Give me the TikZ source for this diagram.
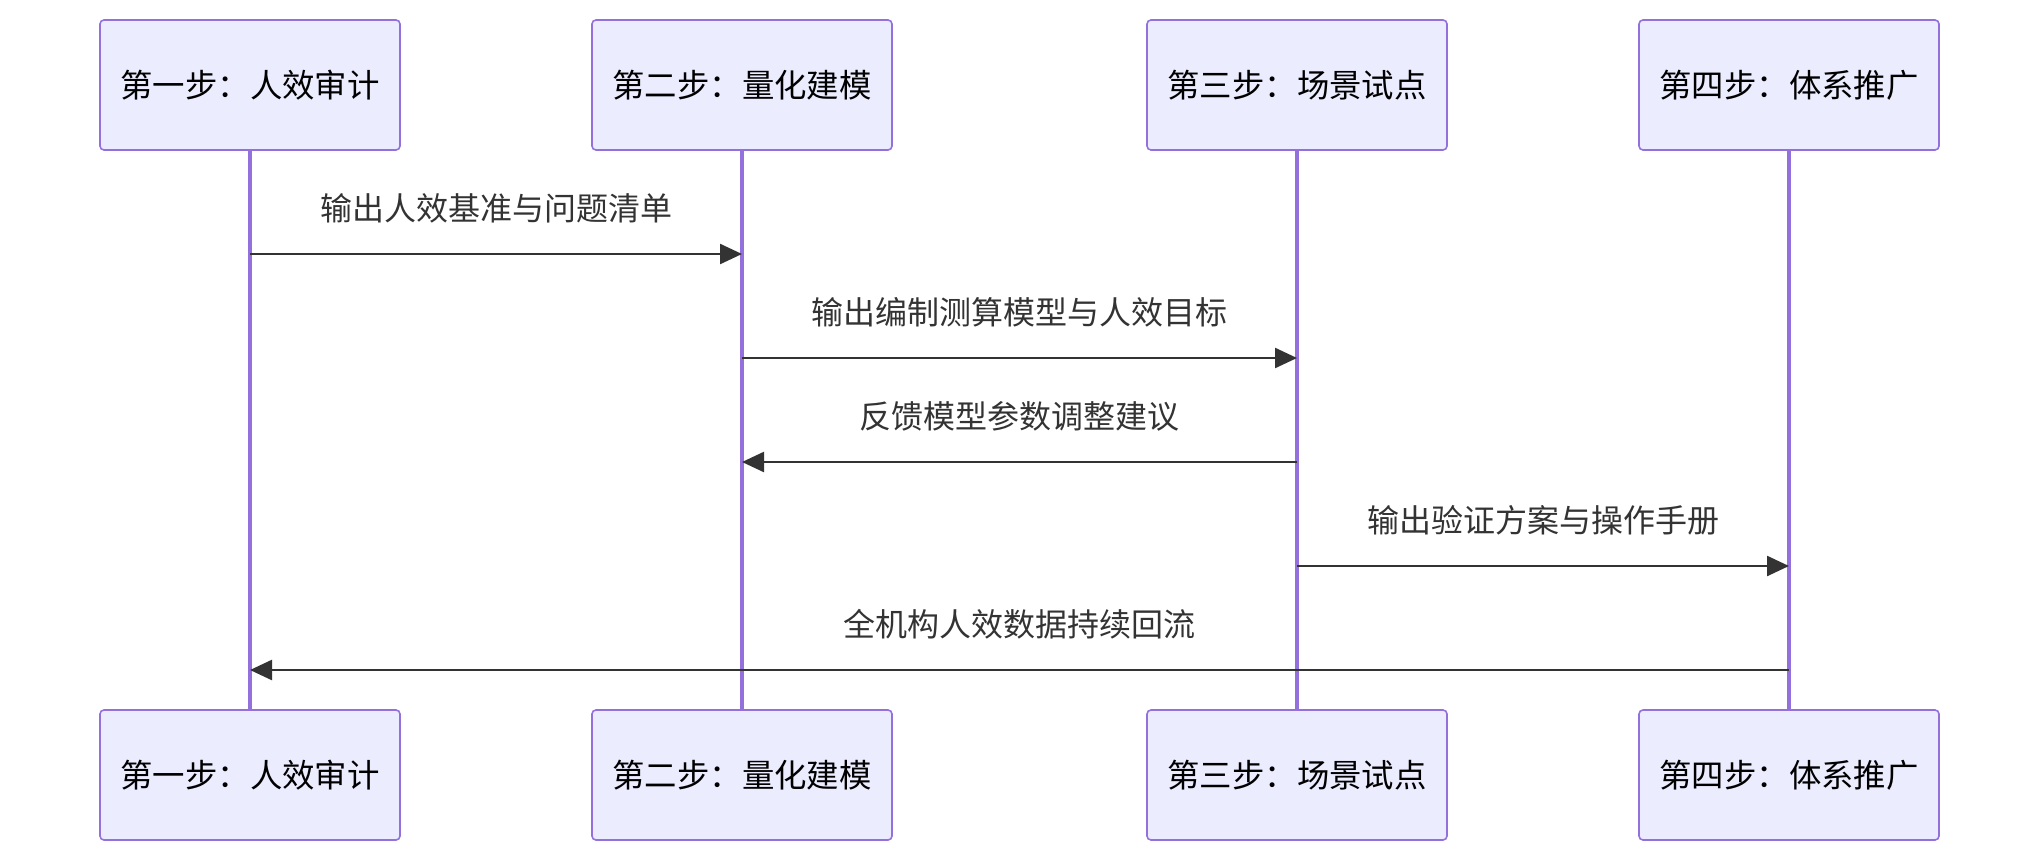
\documentclass[tikz,border=0pt]{standalone}
\usepackage{fontspec}
\setmainfont{Noto Sans CJK SC}
\usetikzlibrary{
  arrows.meta,
  positioning
}
\definecolor{seqpurple}{HTML}{9370DB}
\definecolor{seqfill}{HTML}{ECECFF}
\definecolor{seqtext}{HTML}{333333}
\tikzset{
  seqActor/.style={
    rectangle,
    rounded corners=2pt,
    draw=seqpurple,
    fill=seqfill,
    line width=0.8pt,
    minimum width=150pt,
    minimum height=65pt,
    text=black,
    font=\fontsize{16.2}{19}\selectfont
  },
  seqLife/.style={
    draw=seqpurple,
    line width=1.8pt
  },
  seqMsg/.style={
    -{Triangle[length=11pt,width=10pt]},
    draw=seqtext,
    line width=1.2pt
  },
  seqLabel/.style={
    text=seqtext,
    yshift=23pt,
    font=\fontsize{16}{19}\selectfont
  }
}

\begin{document}
\begin{tikzpicture}[x=0.5pt,y=-0.5pt]
  \useasboundingbox (0,0) rectangle (2040,862);

  % actors, top row
  \node[seqActor] (audit) at (250,85) {第一步：人效审计};
  \node[seqActor] (model) at (742,85) {第二步：量化建模};
  \node[seqActor] (pilot) at (1297,85) {第三步：场景试点};
  \node[seqActor] (rollout) at (1789,85) {第四步：体系推广};

  % actors, bottom row
  \node[seqActor] (auditEnd) at (250,775) {第一步：人效审计};
  \node[seqActor] (modelEnd) at (742,775) {第二步：量化建模};
  \node[seqActor] (pilotEnd) at (1297,775) {第三步：场景试点};
  \node[seqActor] (rolloutEnd) at (1789,775) {第四步：体系推广};

  % lifelines
  \draw[seqLife] (audit) -- (auditEnd);
  \draw[seqLife] (model) -- (modelEnd);
  \draw[seqLife] (pilot) -- (pilotEnd);
  \draw[seqLife] (rollout) -- (rolloutEnd);

  % message rows
  \coordinate (row1) at (0,254);
  \coordinate (row2) at (0,358);
  \coordinate (row3) at (0,462);
  \coordinate (row4) at (0,566);
  \coordinate (row5) at (0,670);

  \draw[seqMsg] (audit |- row1) -- node[seqLabel] {输出人效基准与问题清单} (model |- row1);
  \draw[seqMsg] (model |- row2) -- node[seqLabel] {输出编制测算模型与人效目标} (pilot |- row2);
  \draw[seqMsg] (pilot |- row3) -- node[seqLabel] {反馈模型参数调整建议} (model |- row3);
  \draw[seqMsg] (pilot |- row4) -- node[seqLabel] {输出验证方案与操作手册} (rollout |- row4);
  \draw[seqMsg] (rollout |- row5) -- node[seqLabel] {全机构人效数据持续回流} (audit |- row5);
\end{tikzpicture}
\end{document}
